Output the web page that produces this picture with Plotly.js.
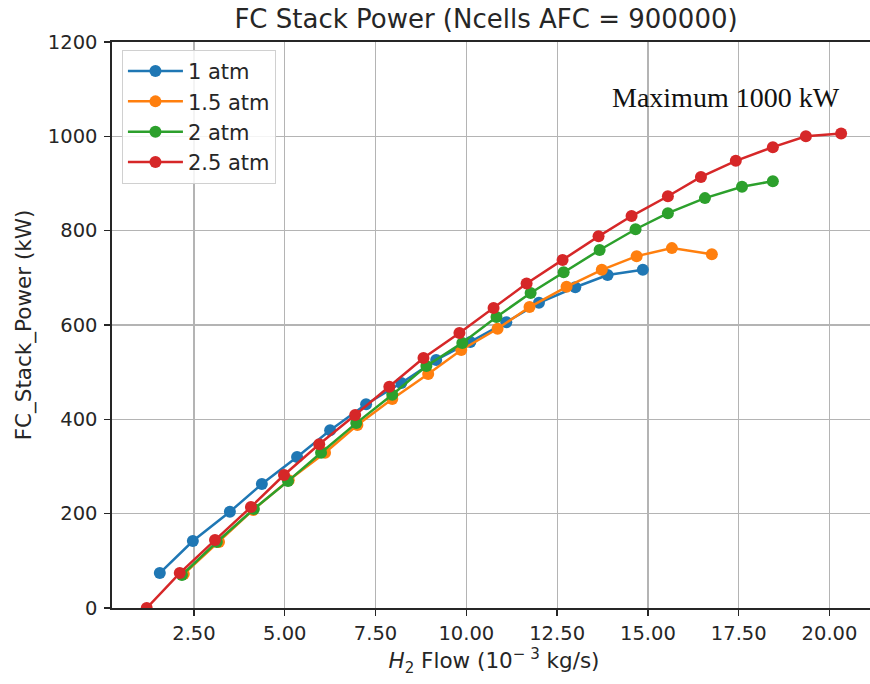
<!DOCTYPE html>
<html>
<head>
<meta charset="utf-8">
<script src="https://cdn.plot.ly/plotly-3.0.1.min.js"></script>
<style>
  html, body { margin: 0; padding: 0; background: #fff; overflow: hidden; }
  #chart { width: 900px; height: 684px; }
</style>
</head>
<body>
<div id="chart"></div>
<script>
// Data
const seriesNames = ["1 atm", "1.5 atm", "2 atm", "2.5 atm"];

const flow1atm = [1.56, 2.47, 3.49, 4.37, 5.34, 6.25, 7.24, 8.21, 9.17, 10.11, 11.1, 12.0, 13.0, 13.89, 14.86];
const power1atm = [74, 142, 204, 263, 320, 377, 432, 477, 526, 564, 606, 647, 680, 706, 717];

const flow15atm = [2.22, 3.19, 4.13, 5.11, 6.11, 7.0, 7.96, 8.95, 9.86, 10.86, 11.74, 12.76, 13.73, 14.69, 15.66, 16.76];
const power15atm = [72, 140, 208, 271, 329, 388, 443, 496, 547, 592, 638, 681, 717, 746, 763, 750];

const flow2atm = [2.17, 3.13, 4.15, 5.09, 6.0, 6.97, 7.96, 8.9, 9.89, 10.83, 11.77, 12.68, 13.67, 14.66, 15.55, 16.57, 17.59, 18.44];
const power2atm = [70, 140, 210, 269, 329, 392, 452, 513, 562, 617, 668, 712, 759, 803, 837, 869, 893, 905];

const flow25atm = [1.2, 2.11, 3.08, 4.07, 4.98, 5.95, 6.94, 7.88, 8.82, 9.81, 10.75, 11.66, 12.65, 13.64, 14.55, 15.55, 16.46, 17.42, 18.44, 19.35, 20.32];
const power25atm = [0, 74, 144, 214, 282, 347, 409, 469, 530, 583, 636, 688, 738, 788, 831, 873, 914, 948, 977, 1000, 1006];

const xTickVals = [2.5, 5.0, 7.5, 10.0, 12.5, 15.0, 17.5, 20.0];
const xTickText = ["2.50", "5.00", "7.50", "10.00", "12.50", "15.00", "17.50", "20.00"];
const yTickVals = [0, 200, 400, 600, 800, 1000, 1200];

const colors = ["#1f77b4", "#ff7f0e", "#2ca02c", "#d62728"];
const xs = [flow1atm, flow15atm, flow2atm, flow25atm];
const ys = [power1atm, power15atm, power2atm, power25atm];

const traces = seriesNames.map((name, i) => ({
  x: xs[i],
  y: ys[i],
  name: name,
  legendgroup: "g" + i,
  type: "scatter",
  mode: "lines+markers",
  line: { color: colors[i], width: 2.5 },
  marker: { color: colors[i], size: 12 },
  cliponaxis: true
}));

const font = "DejaVu Sans, sans-serif";
const txt = "#262626";

const layout = {
  width: 900,
  height: 684,
  margin: { l: 112, r: 24, t: 42, b: 76 },
  paper_bgcolor: "#ffffff",
  plot_bgcolor: "#ffffff",
  font: { family: font, size: 19, color: txt },
  title: {
    text: "FC Stack Power (Ncells AFC = 900000)",
    font: { family: font, size: 26, color: txt },
    xref: "container", x: 486 / 900, xanchor: "center",
    yref: "container", y: 1 - 19 / 684, yanchor: "middle"
  },
  xaxis: {
    range: [0.244, 21.28],
    tickvals: xTickVals,
    ticktext: xTickText,
    showgrid: true,
    gridcolor: "#b4b4b4",
    gridwidth: 1.2,
    zeroline: false,
    showline: true,
    linecolor: txt,
    linewidth: 1.6,
    mirror: true,
    ticks: "outside",
    ticklen: 6,
    tickwidth: 1.3,
    tickcolor: txt,
    ticklabelstandoff: 1,
    tickfont: { family: font, size: 19.5, color: txt },
    title: {
      text: "<i>H</i><sub>2</sub> Flow (10<sup>− 3</sup> kg/s)",
      font: { family: font, size: 21.5, color: txt },
      standoff: 8
    }
  },
  yaxis: {
    range: [0, 1200],
    tickvals: yTickVals,
    showgrid: true,
    gridcolor: "#b4b4b4",
    gridwidth: 1.2,
    zeroline: false,
    showline: true,
    linecolor: txt,
    linewidth: 1.6,
    mirror: true,
    ticks: "outside",
    ticklen: 6,
    tickwidth: 1.3,
    tickcolor: txt,
    ticklabelstandoff: 3,
    tickfont: { family: font, size: 19.5, color: txt },
    title: {
      text: "FC_Stack_Power (kW)",
      font: { family: font, size: 21.5, color: txt },
      standoff: 10
    }
  },
  legend: {
    x: 0.013, xanchor: "left",
    y: 0.986, yanchor: "top",
    bgcolor: "rgba(255,255,255,0.85)",
    bordercolor: "#d0d0d0",
    borderwidth: 1,
    font: { family: font, size: 21, color: txt },
    tracegroupgap: 0,
    itemwidth: 55
  },
  annotations: [{
    text: "Maximum 1000 kW",
    x: 17.15, y: 1083,
    xref: "x", yref: "y",
    xanchor: "center", yanchor: "middle",
    showarrow: false,
    font: { family: "Liberation Serif, Times New Roman, serif", size: 28, color: "#111111" }
  }],
  showlegend: true
};

Plotly.newPlot("chart", traces, layout, { displayModeBar: false, staticPlot: true });
</script>
</body>
</html>
